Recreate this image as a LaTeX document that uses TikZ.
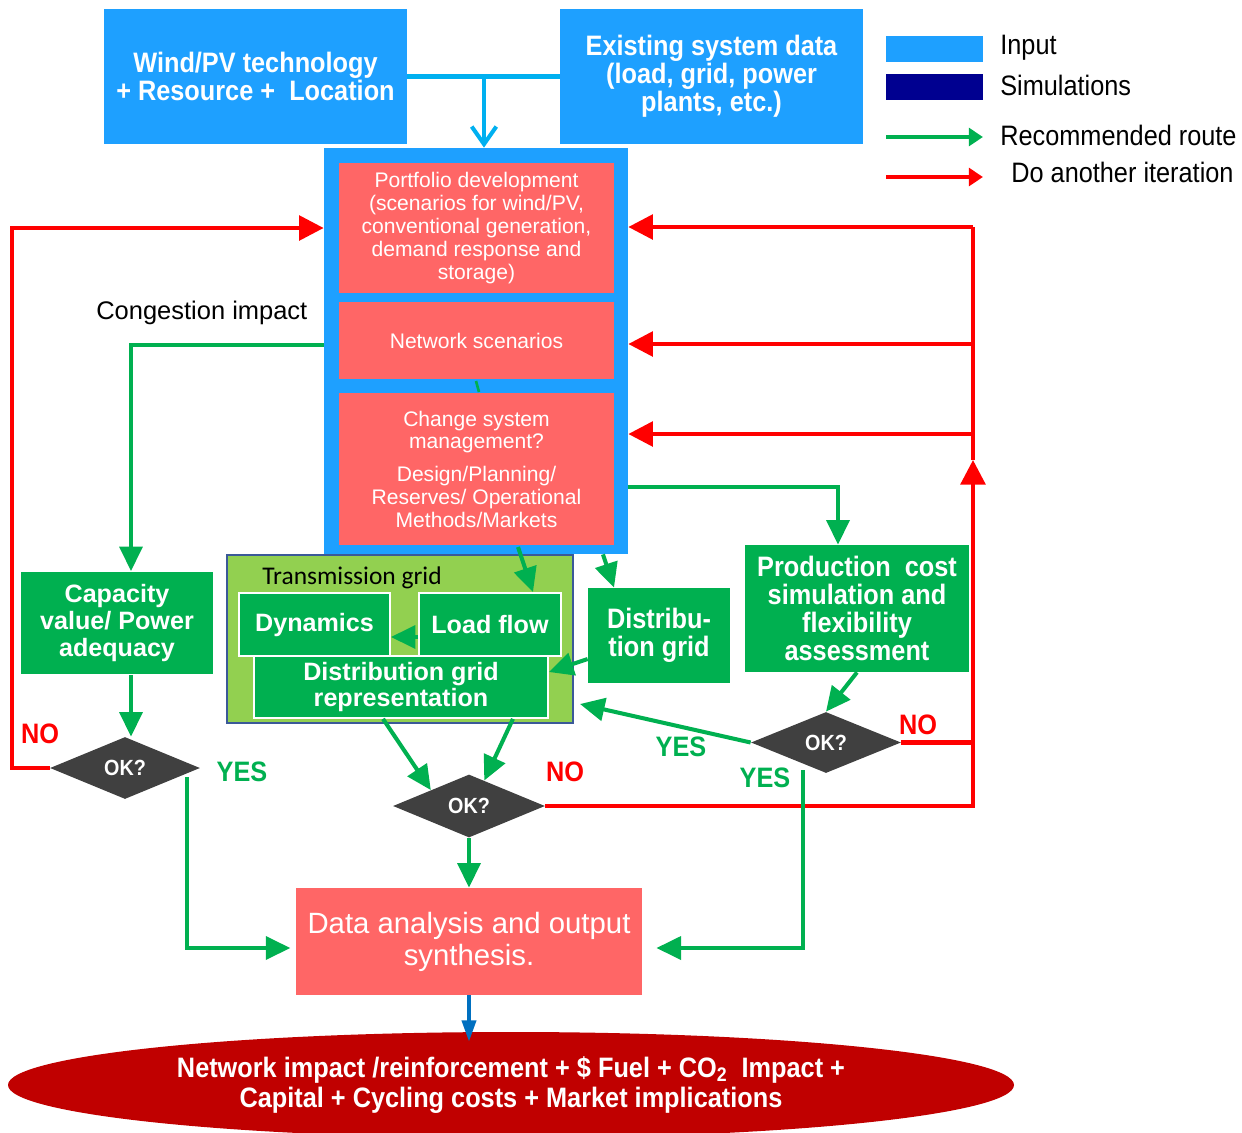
\documentclass[tikz,border=0pt]{standalone}
\usepackage{fontspec}
\setmainfont{Liberation Sans}
\newfontfamily\narfont[FakeStretch=0.9]{Liberation Sans}
\newfontfamily\calfont{Carlito}
\usetikzlibrary{shapes.geometric,arrows.meta,calc}
\definecolor{inblue}{RGB}{30,160,255}
\definecolor{linkblue}{RGB}{0,176,240}
\definecolor{pinkred}{RGB}{255,102,102}
\definecolor{ggreen}{RGB}{0,176,80}
\definecolor{lgreen}{RGB}{146,208,80}
\definecolor{tborder}{RGB}{59,89,152}
\definecolor{dgrey}{RGB}{64,64,64}
\definecolor{simnavy}{RGB}{0,0,144}
\definecolor{dred}{RGB}{192,0,0}
\definecolor{arrred}{RGB}{255,0,0}
\definecolor{outblue}{RGB}{0,112,192}
\tikzset{
  inbox/.style={fill=inblue, text=white, align=center, inner sep=0pt,
    font=\narfont\bfseries\fontsize{16}{16}\selectfont},
  pinkbox/.style={fill=pinkred, text=white, align=center, inner sep=0pt,
    font=\fontsize{12}{13}\selectfont},
  gbox/.style={fill=ggreen, text=white, align=center, inner sep=0pt,
    font=\narfont\bfseries\fontsize{16}{16}\selectfont},
  gboxa/.style={fill=ggreen, draw=white, line width=1pt, text=white, align=center, inner sep=0pt,
    font=\bfseries\fontsize{14.3}{15.3}\selectfont},
  okdia/.style={diamond, fill=dgrey, text=white, inner sep=0pt,
    font=\narfont\bfseries\fontsize{12.5}{13}\selectfont},
  lab/.style={font=\narfont\bfseries\fontsize{16}{16}\selectfont},
  legtext/.style={anchor=west, inner sep=0pt, font=\narfont\fontsize{16}{16}\selectfont},
  garr/.style={draw=ggreen, line width=2.3pt, -{Triangle[length=14pt,width=13pt]}},
  gline/.style={draw=ggreen, line width=2.3pt},
  rarr/.style={draw=arrred, line width=2.3pt, -{Triangle[length=14pt,width=14pt]}},
  rline/.style={draw=arrred, line width=2.3pt},
}
\begin{document}
\begin{tikzpicture}[x=0.02cm, y=-0.02cm]
\useasboundingbox (0,0) rectangle (1242,1133);

% input boxes
\node[inbox, minimum width=303*0.02cm, minimum height=135*0.02cm] (wind) at (255.5,76.5)
  {Wind/PV technology\\+ Resource +\ \ Location};
\node[inbox, minimum width=303*0.02cm, minimum height=135*0.02cm] (exist) at (711.5,76.5)
  {Existing system data\\(load, grid, power\\plants, etc.)};

% legend
\node[fill=inblue, minimum width=97*0.02cm, minimum height=26*0.02cm, inner sep=0pt] (legin) at (934.5,49) {};
\node[fill=simnavy, minimum width=97*0.02cm, minimum height=26*0.02cm, inner sep=0pt] (legsim) at (934.5,87) {};
\node[legtext] (tin) at (1000,48) {Input};
\node[legtext] (tsim) at (1000,85) {Simulations};
\node[legtext] (trec) at (1000,135) {Recommended route};
\node[legtext] (tdo) at (1011,172) {Do another iteration};
\coordinate (lg1) at (886,137); \coordinate (lg2) at (983,137);
\coordinate (lr1) at (886,177); \coordinate (lr2) at (983,177);
\draw[draw=ggreen, line width=2.3pt, -{Triangle[length=8pt,width=10pt]}] (lg1) -- (lg2);
\draw[draw=arrred, line width=2.3pt, -{Triangle[length=8pt,width=10pt]}] (lr1) -- (lr2);

% central frame
\node[fill=inblue, minimum width=304*0.02cm, minimum height=406*0.02cm, inner sep=0pt] (frame) at (476,351) {};
\node[pinkbox, minimum width=275*0.02cm, minimum height=130*0.02cm] (port) at (476.5,228)
  {Portfolio development\\(scenarios for wind/PV,\\conventional generation,\\demand response and\\storage)};
\node[pinkbox, minimum width=275*0.02cm, minimum height=77*0.02cm] (net) at (476.5,340.5)
  {Network scenarios};
\node[pinkbox, minimum width=275*0.02cm, minimum height=152*0.02cm] (chg) at (476.5,469)
  {Change system\\management?\\[5.5pt]Design/Planning/\\Reserves/ Operational\\Methods/Markets};

\node[anchor=west, inner sep=0pt, font=\fontsize{14.5}{15}\selectfont] (cong) at (96,313) {Congestion impact};

% capacity
\node[gboxa, draw=none, minimum width=192*0.02cm, minimum height=102*0.02cm] (cap) at (117,623)
  {Capacity\\value/ Power\\adequacy};

% transmission grid
\node[fill=lgreen, draw=tborder, line width=1.5pt, minimum width=346*0.02cm, minimum height=168*0.02cm, inner sep=0pt] (trans) at (400,639) {};
\node[anchor=west, inner sep=0pt, font=\calfont\fontsize{14.5}{15}\selectfont] (tlab) at (262,578) {Transmission grid};
\node[gboxa, minimum width=151*0.02cm, minimum height=63*0.02cm] (dyn) at (314.5,624.5) {Dynamics};
\node[gboxa, minimum width=142*0.02cm, minimum height=63*0.02cm] (lf) at (490,624.5) {Load flow};
\node[gboxa, minimum width=294*0.02cm, minimum height=62*0.02cm] (dgr) at (401,687) {Distribution grid\\representation};

% distribution and production
\node[gbox, minimum width=142*0.02cm, minimum height=95*0.02cm] (dist) at (659,635.5) {Distribu-\\tion grid};
\node[gbox, minimum width=224*0.02cm, minimum height=127*0.02cm] (prod) at (857,608.5)
  {Production\ \ cost\\simulation and\\flexibility\\assessment};

% decisions
\node[okdia, minimum width=150*0.02cm, minimum height=62*0.02cm] (d1) at (125,768) {OK?};
\node[okdia, minimum width=152*0.02cm, minimum height=63*0.02cm] (d2) at (469,806) {OK?};
\node[okdia, minimum width=150*0.02cm, minimum height=61*0.02cm] (d3) at (826,742.5) {OK?};

% output
\node[fill=pinkred, text=white, align=center, inner sep=0pt, minimum width=346*0.02cm, minimum height=107*0.02cm,
  font=\fontsize{16.7}{18.2}\selectfont] (data) at (469,941.5) {Data analysis and output\\synthesis.};
\node[ellipse, fill=dred, text=white, align=center, inner sep=0pt, minimum width=1006*0.02cm, minimum height=106*0.02cm,
  font=\narfont\bfseries\fontsize{16}{17.6}\selectfont] (ell) at (511,1085)
  {Network impact /reinforcement + \$ Fuel + CO\textsubscript{2}\ \ Impact +\\Capital + Cycling costs + Market implications};

% labels
\node[lab, text=arrred] (no1) at (40,734) {NO};
\node[lab, text=ggreen] (yes1) at (242,772) {YES};
\node[lab, text=ggreen] (yes2) at (681,747) {YES};
\node[lab, text=arrred] (no3) at (918,725) {NO};
\node[lab, text=ggreen] (yes3) at (765,778) {YES};
\node[lab, text=arrred] (no2) at (565,772) {NO};

% blue input connector
\coordinate (jt) at (484,76.5);
\draw[linkblue, line width=2.3pt] (wind.east) -- (exist.west);
\draw[linkblue, line width=2.3pt, -{Straight Barb[length=10pt,width=14pt]}] (jt) -- (jt |- frame.north);

% red loops
\draw[rarr] (d1.west) -- ++(-38,0) |- (frame.west |- port.west);
\coordinate (rb) at (973,806);
\coordinate (rup) at (973,460);
\coordinate (rt) at (973,227);
\coordinate (r2) at (973,344);
\coordinate (r3) at (973,434);
\draw[rarr] (d2.east) -- (rb) -- (rup);
\draw[rline] (rup) -- (rt);
\draw[rarr] (rt) -- (frame.east |- rt);
\draw[rarr] (r2) -- (frame.east |- r2);
\draw[rarr] (r3) -- (frame.east |- r3);
\draw[rline] (d3.east) -- (d3.east -| rb);

% green connectors
\coordinate (gc) at (131,345);
\draw[garr] (frame.west |- gc) -- (gc) -- (gc |- cap.north);
\draw[garr] (gc |- cap.south) -- (gc |- d1.north);
\coordinate (gy) at (0,948);
\coordinate (g1s) at (187,777);
\draw[garr, shorten >=3pt] (g1s) |- (data.west |- gy);
\coordinate (g3s) at (803,770);
\draw[garr, shorten >=8pt] (g3s) |- (data.east |- gy);
\coordinate (gp) at (838,487);
\draw[garr] (frame.east |- gp) -- (gp) -- (gp |- prod.north);
\draw[garr] (prod.south) -- (d3.north);
\coordinate (tyes) at (580,704);
\draw[garr] (d3.west) -- (tyes);
\coordinate (c1) at (518,547);
\draw[garr] (c1) -- ([xshift=0.86cm]lf.north);
\draw[garr] ([yshift=-0.25cm]lf.west) -- ([yshift=-0.25cm]dyn.east);
\draw[garr] ([xshift=2.54cm]frame.south) -- ([xshift=-0.9cm]dist.north);
\draw[garr] ([yshift=-0.47cm]dist.west) -- ([yshift=0.3cm]dgr.east);
\draw[garr] ([xshift=-0.36cm]dgr.south) -- (d2.north west);
\draw[garr] ([xshift=2.24cm]dgr.south) -- ($(d2.north)!0.2!(d2.east)$);
\draw[garr] (d2.south) -- (data.north);
\coordinate (ts1) at (476,381); \coordinate (ts2) at (479,392);
\draw[ggreen, line width=1.5pt] (ts1) -- (ts2);

% output arrow
\coordinate (eltop) at (469,1031);
\draw[outblue, line width=2pt, -{Triangle[length=12pt,width=8pt]}, shorten >=-6pt] (data.south) -- (data.south |- eltop);
\end{tikzpicture}
\end{document}
